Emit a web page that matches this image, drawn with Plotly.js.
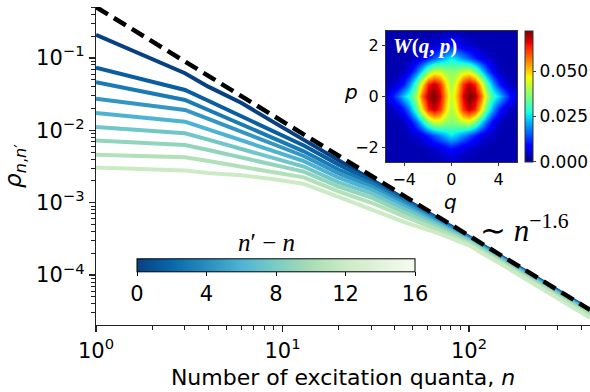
<!DOCTYPE html>
<html><head><meta charset="utf-8">
<script src="https://cdn.plot.ly/plotly-3.0.1.min.js"></script>
<style>html,body{margin:0;padding:0;background:#fff}#chart{width:590px;height:392px}</style>
</head><body><div id="chart"></div>
<script>
// excitation number n
const nQuanta = [1, 3, 4, 6, 9, 13, 20, 30, 45, 70, 100, 150, 220, 320, 446];
// n' - n for each curve
const deltaN = [0, 2, 4, 6, 8, 10, 12, 14, 16];
// log10(rho_{n,n'}), one array per n'-n
const log10Rho_d0  = [-0.682, -1.211, -1.396, -1.620, -1.890, -2.130, -2.407, -2.671, -2.940, -3.235, -3.475, -3.750, -4.005, -4.260, -4.485];
const log10Rho_d2  = [-1.134, -1.442, -1.592, -1.803, -2.015, -2.210, -2.474, -2.701, -2.960, -3.245, -3.481, -3.755, -4.010, -4.265, -4.490];
const log10Rho_d4  = [-1.336, -1.580, -1.719, -1.914, -2.110, -2.290, -2.541, -2.736, -2.985, -3.260, -3.489, -3.762, -4.017, -4.272, -4.497];
const log10Rho_d6  = [-1.562, -1.718, -1.842, -2.017, -2.191, -2.355, -2.596, -2.776, -3.015, -3.278, -3.499, -3.771, -4.026, -4.281, -4.506];
const log10Rho_d8  = [-1.760, -1.880, -1.986, -2.135, -2.284, -2.425, -2.655, -2.821, -3.050, -3.298, -3.511, -3.782, -4.037, -4.292, -4.517];
const log10Rho_d10 = [-1.953, -2.040, -2.129, -2.255, -2.381, -2.500, -2.718, -2.871, -3.090, -3.322, -3.525, -3.795, -4.050, -4.305, -4.530];
const log10Rho_d12 = [-2.142, -2.202, -2.272, -2.371, -2.470, -2.570, -2.777, -2.931, -3.135, -3.350, -3.542, -3.810, -4.066, -4.320, -4.545];
const log10Rho_d14 = [-2.336, -2.372, -2.425, -2.499, -2.573, -2.650, -2.844, -3.001, -3.190, -3.385, -3.562, -3.829, -4.086, -4.340, -4.565];
const log10Rho_d16 = [-2.515, -2.556, -2.590, -2.620, -2.675, -2.740, -2.920, -3.100, -3.270, -3.430, -3.590, -3.855, -4.115, -4.368, -4.590];
const curveColors = ['#084081', '#085ea1', '#1a7ab5', '#3496c3', '#4eb3d3', '#70c6c8', '#92d4bc', '#b1e0b9', '#ccebc5'];
// ~ n^-1.6 guide line (end points)
const guideN = [1, 446];
const guideRho = [0.506, 3.30e-5];
// colour bar of n'-n
const cbarTicks = [0, 4, 8, 12, 16];
// Wigner function inset
const qGrid = [-5.5,-5,-4.5,-4,-3.5,-3,-2.5,-2,-1.5,-1,-0.5,0,0.5,1,1.5,2,2.5,3,3.5,4,4.5,5,5.5];
const pGrid = [-2.5,-2,-1.5,-1,-0.5,0,0.5,1,1.5,2,2.5];
const W_p25 = [0.003,0.003,0.003,0.003,0.003,0.003,0.003,0.003,0.003,0.003,0.004,0.004,0.004,0.003,0.003,0.003,0.003,0.003,0.003,0.003,0.003,0.003,0.003];
const W_p20 = [0.003,0.003,0.003,0.003,0.003,0.003,0.003,0.004,0.005,0.006,0.008,0.010,0.008,0.006,0.005,0.004,0.003,0.003,0.003,0.003,0.003,0.003,0.003];
const W_p15 = [0.003,0.003,0.003,0.003,0.004,0.005,0.007,0.011,0.015,0.019,0.023,0.026,0.023,0.019,0.015,0.011,0.007,0.005,0.004,0.003,0.003,0.003,0.003];
const W_p10 = [0.003,0.003,0.003,0.004,0.008,0.015,0.025,0.036,0.043,0.042,0.038,0.037,0.038,0.042,0.043,0.036,0.025,0.015,0.008,0.004,0.003,0.003,0.003];
const W_p05 = [0.003,0.004,0.006,0.011,0.020,0.032,0.048,0.063,0.068,0.062,0.048,0.040,0.048,0.062,0.068,0.063,0.048,0.032,0.020,0.011,0.006,0.004,0.003];
const W_p00 = [0.006,0.010,0.016,0.024,0.030,0.040,0.058,0.069,0.073,0.066,0.052,0.042,0.052,0.066,0.073,0.069,0.058,0.040,0.030,0.024,0.016,0.010,0.006];
const wRows = [W_p25, W_p20, W_p15, W_p10, W_p05, W_p00, W_p05, W_p10, W_p15, W_p20, W_p25];
const wTicks = [0, 0.025, 0.05];
const wTickText = ['0.000', '0.025', '0.050'];

const logCurves = [log10Rho_d0, log10Rho_d2, log10Rho_d4, log10Rho_d6, log10Rho_d8, log10Rho_d10, log10Rho_d12, log10Rho_d14, log10Rho_d16];

const GnBu_r = [[0,'#084081'],[0.125,'#0868ac'],[0.25,'#2b8cbe'],[0.375,'#4eb3d3'],[0.5,'#7bccc4'],[0.625,'#a8ddb5'],[0.75,'#ccebc5'],[0.875,'#e0f3db'],[1,'#f7fcf0']];
const jet = [[0,'rgb(0,0,128)'],[0.11,'rgb(0,0,255)'],[0.125,'rgb(0,0,255)'],[0.34,'rgb(0,219,255)'],[0.35,'rgb(0,229,246)'],[0.375,'rgb(21,255,226)'],[0.64,'rgb(239,255,8)'],[0.66,'rgb(255,236,0)'],[0.89,'rgb(255,19,0)'],[0.91,'rgb(232,0,0)'],[1,'rgb(128,0,0)']];

const traces = [];
logCurves.forEach((arr, i) => {
  traces.push({
    x: nQuanta, y: arr.map(v => Math.pow(10, v)),
    type: 'scatter', mode: 'lines', name: 'Δ=' + deltaN[i],
    line: {color: curveColors[i], width: 4},
    hoverinfo: 'skip', showlegend: false
  });
});
traces.push({
  x: guideN, y: guideRho, type: 'scatter', mode: 'lines',
  line: {color: '#000', width: 4.5, dash: '14px,7px'}, showlegend: false
});
// carrier of the n'-n colour bar
traces.push({
  x: [1, 1], y: [1e-12, 1e-12], type: 'scatter', mode: 'markers',
  marker: {
    color: [cbarTicks[0], cbarTicks[cbarTicks.length - 1]], colorscale: GnBu_r, cmin: 0, cmax: 16,
    size: 1, opacity: 0, showscale: true,
    colorbar: {
      orientation: 'h', x: 0.3644, xanchor: 'center', xpad: 0,
      y: 0.057, yanchor: 'bottom', ypad: 0,
      lenmode: 'pixels', len: 278, thickness: 13,
      outlinewidth: 1, outlinecolor: '#000',
      tickmode: 'array', tickvals: cbarTicks, ticks: 'outside', ticklen: 4, tickcolor: '#000',
      tickfont: {family: 'DejaVu Sans', size: 21, color: '#000'}
    }
  },
  showlegend: false, hoverinfo: 'skip'
});
traces.push({
  type: 'heatmap', x: qGrid, y: pGrid, z: wRows, xaxis: 'x2', yaxis: 'y2',
  colorscale: jet, zmin: 0, zmax: 0.072, zsmooth: 'best',
  colorbar: {
    x: 0.8684, xanchor: 'left', xpad: 0, y: 0.7186, yanchor: 'middle', ypad: 0,
    lenmode: 'pixels', len: 131, thickness: 8,
    outlinewidth: 1, outlinecolor: '#333',
    tickmode: 'array', tickvals: wTicks, ticktext: wTickText, ticks: 'outside', ticklen: 3,
    tickfont: {family: 'DejaVu Sans', size: 17, color: '#000'}
  }
});

const minorX = [2,3,4,5,6,7,8,9,20,30,40,50,60,70,80,90,200,300,400];
const minorY = [3e-5,4e-5,5e-5,6e-5,7e-5,8e-5,9e-5,2e-4,3e-4,4e-4,5e-4,6e-4,7e-4,8e-4,9e-4,2e-3,3e-3,4e-3,5e-3,6e-3,7e-3,8e-3,9e-3,2e-2,3e-2,4e-2,5e-2,6e-2,7e-2,8e-2,9e-2,2e-1,3e-1,4e-1,5e-1];
const tickFont = {family: 'DejaVu Sans', size: 21, color: '#000'};

const layout = {
  width: 590, height: 392,
  margin: {l: 96, r: 0, t: 7, b: 67},
  paper_bgcolor: '#fff', plot_bgcolor: '#fff',
  font: {family: 'DejaVu Sans', color: '#000'},
  xaxis: {
    type: 'log', range: [0, 2.649], showgrid: false, zeroline: false,
    showline: true, linecolor: '#222', linewidth: 1.3,
    ticks: 'outside', ticklen: 6, tickwidth: 1.2, tickcolor: '#222',
    tickmode: 'array', tickvals: [1, 10, 100], ticktext: ['10<sup>0</sup>', '10<sup>1</sup>', '10<sup>2</sup>'],
    tickfont: tickFont,
    minor: {tickmode: 'array', tickvals: minorX, ticks: 'outside', ticklen: 3.5, tickwidth: 1, tickcolor: '#222', showgrid: false},
    title: {text: 'Number of excitation quanta, <i>n</i>', font: {family: 'DejaVu Sans', size: 22, color: '#000'}, standoff: 8}
  },
  yaxis: {
    type: 'log', range: [-4.69, -0.296], showgrid: false, zeroline: false,
    showline: true, linecolor: '#222', linewidth: 1.3,
    ticks: 'outside', ticklen: 6, tickwidth: 1.2, tickcolor: '#222',
    tickmode: 'array', tickvals: [1e-4, 1e-3, 1e-2, 1e-1],
    ticktext: ['10<sup>−4</sup>', '10<sup>−3</sup>', '10<sup>−2</sup>', '10<sup>−1</sup>'],
    tickfont: tickFont,
    minor: {tickmode: 'array', tickvals: minorY, ticks: 'outside', ticklen: 3.5, tickwidth: 1, tickcolor: '#222', showgrid: false},
    title: {text: '<i>ρ</i><sub><i>n</i>,<i>n</i>′</sub>', font: {family: 'DejaVu Sans', size: 23, color: '#000'}, standoff: 8}
  },
  xaxis2: {
    domain: [0.587, 0.852], anchor: 'y2', range: [-5.55, 5.55],
    showgrid: false, zeroline: false, showline: true, mirror: true, linecolor: '#333', linewidth: 1,
    ticks: 'outside', ticklen: 3, tickcolor: '#333', tickmode: 'array', tickvals: [-4, 0, 4],
    tickfont: {family: 'DejaVu Sans', size: 16, color: '#000'}
  },
  yaxis2: {
    domain: [0.5126, 0.9245], anchor: 'x2', range: [-2.55, 2.55],
    showgrid: false, zeroline: false, showline: true, mirror: true, linecolor: '#333', linewidth: 1,
    ticks: 'outside', ticklen: 3, tickcolor: '#333', tickmode: 'array', tickvals: [-2, 0, 2],
    tickfont: {family: 'DejaVu Sans', size: 16, color: '#000'}
  },
  annotations: [
    {xref: 'paper', yref: 'paper', x: 0.773, y: 0.305, xanchor: 'left', yanchor: 'middle', showarrow: false,
     text: '∼ <i>n</i><sup>−1.6</sup>', font: {family: 'Liberation Serif', size: 31, color: '#000'}},
    {xref: 'paper', yref: 'paper', x: 0.597, y: 0.877, xanchor: 'left', yanchor: 'middle', showarrow: false,
     text: '<b><i>W</i>(<i>q</i>, <i>p</i>)</b>', font: {family: 'Liberation Serif', size: 21, color: '#fff'}},
    {xref: 'paper', yref: 'paper', x: 0.7186, y: 0.388, xanchor: 'center', yanchor: 'middle', showarrow: false,
     text: '<i>q</i>', font: {family: 'DejaVu Sans', size: 20, color: '#000'}},
    {xref: 'paper', yref: 'paper', x: 0.516, y: 0.733, xanchor: 'center', yanchor: 'middle', showarrow: false,
     text: '<i>p</i>', font: {family: 'DejaVu Sans', size: 20, color: '#000'}},
    {xref: 'paper', yref: 'paper', x: 0.346, y: 0.261, xanchor: 'center', yanchor: 'middle', showarrow: false,
     text: '<i>n</i>′ − <i>n</i>', font: {family: 'Liberation Serif', size: 25, color: '#000'}}
  ],
  showlegend: false
};

Plotly.newPlot('chart', traces, layout, {displayModeBar: false, staticPlot: true});
</script>
</body></html>
